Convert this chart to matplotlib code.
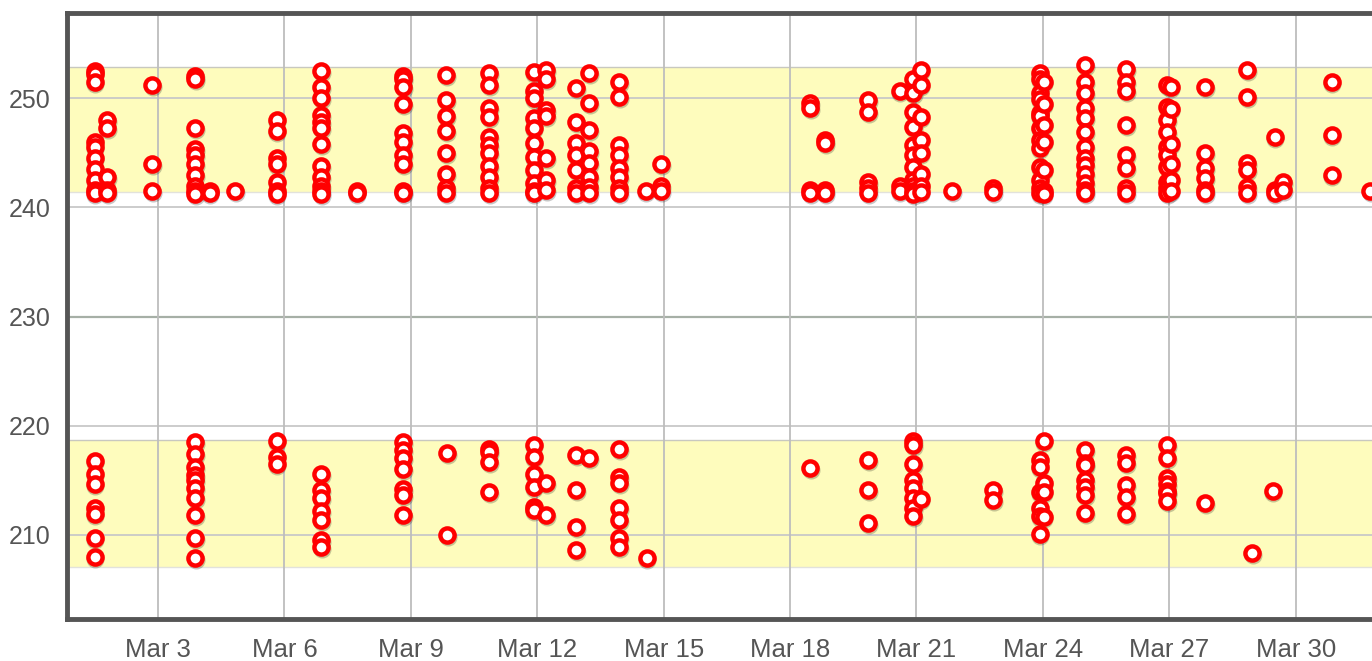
import datetime as dt
import matplotlib
matplotlib.use("Agg")
import matplotlib.pyplot as plt
import matplotlib.dates as mdates
import matplotlib.transforms as mtransforms
from matplotlib.ticker import FuncFormatter

# Readings, grouped by the (fractional) day of March they were taken on.
# Upper cluster (~241-253)
hi_days = [1.50, 1.79, 2.86, 3.88, 4.23, 4.83, 5.82, 6.87, 7.72, 8.82,
           9.84, 10.86, 11.92, 12.21, 12.92, 13.23, 13.94, 14.58, 14.94,
           18.48, 18.83, 19.85, 20.60, 20.92, 21.10, 21.85, 22.82,
           23.92, 24.02, 25.00, 25.98, 26.95, 27.03, 27.85, 28.85, 29.50,
           29.70, 30.85, 31.77]
hi_vals = [
    [252.5, 252.2, 251.5, 246.0, 245.5, 244.5, 243.5, 242.5, 241.6, 241.3],
    [248.0, 247.3, 242.8, 241.6, 241.3],
    [251.2, 244.0, 241.5],
    [252.0, 251.8, 247.3, 245.3, 244.8, 244.0, 243.0, 242.0, 241.5, 241.2],
    [241.5, 241.3],
    [241.5],
    [248.0, 247.0, 244.5, 244.0, 242.3, 241.5, 241.2],
    [252.5, 251.0, 250.0, 248.5, 247.8, 247.3, 245.8, 243.8, 242.8, 242.0, 241.5, 241.2],
    [241.5, 241.3],
    [252.0, 251.8, 251.0, 249.5, 246.8, 246.0, 244.8, 244.0, 241.5, 241.3],
    [252.1, 249.8, 248.4, 247.0, 245.0, 243.1, 241.8, 241.3],
    [252.3, 251.2, 249.1, 248.3, 246.4, 245.7, 245.0, 243.8, 242.8, 241.8, 241.3],
    [252.4, 250.7, 250.0, 248.2, 247.3, 245.9, 244.6, 243.4, 242.2, 241.5, 241.3],
    [252.6, 251.8, 248.9, 248.4, 244.5, 242.5, 241.6],
    [250.9, 247.8, 245.9, 244.8, 243.4, 241.8, 241.3],
    [252.3, 249.6, 247.1, 245.2, 244.1, 242.8, 241.9, 241.3],
    [251.5, 250.1, 245.7, 244.8, 243.6, 242.8, 241.8, 241.3],
    [241.5],
    [244.0, 242.0, 241.5],
    [249.6, 249.1, 241.6, 241.3],
    [246.2, 245.9, 241.6, 241.3],
    [249.8, 248.7, 242.3, 241.8, 241.3],
    [250.7, 242.0, 241.5],
    [251.8, 250.5, 248.7, 247.4, 245.7, 244.8, 243.7, 242.5, 242.0, 241.5, 241.2],
    [252.6, 251.2, 248.3, 246.2, 245.0, 243.1, 242.0, 241.4],
    [241.5],
    [241.8, 241.4],
    [252.3, 251.8, 250.5, 249.9, 248.6, 248.4, 247.3, 246.2, 245.4, 243.7, 242.5, 241.8, 241.3],
    [251.5, 249.5, 247.5, 246.0, 243.4, 241.5, 241.2],
    [253.0, 251.5, 250.5, 249.1, 248.2, 246.9, 245.5, 244.5, 243.9, 243.1, 242.2, 241.6, 241.3],
    [252.7, 251.5, 250.7, 247.5, 244.8, 243.6, 241.8, 241.3],
    [251.2, 249.2, 248.0, 246.9, 245.5, 244.8, 243.7, 242.3, 241.8, 241.3],
    [251.0, 249.0, 245.8, 244.0, 242.5, 241.5],
    [251.0, 245.0, 243.6, 242.7, 241.6, 241.3],
    [252.6, 250.1, 244.1, 243.4, 241.9, 241.3],
    [246.4, 241.6, 241.3],
    [242.3, 241.6],
    [251.5, 246.6, 243.0],
    [241.5],
]

# Lower cluster (~207-219)
lo_days = [1.50, 3.88, 5.82, 6.87, 8.82, 9.86, 10.86, 11.92, 12.21, 12.92,
           13.23, 13.94, 14.60, 18.48, 19.85, 20.92, 21.10, 22.82, 23.92,
           24.02, 25.00, 25.98, 26.95, 27.85, 28.97, 29.45]
lo_vals = [
    [216.8, 215.6, 214.7, 212.5, 211.9, 209.7, 208.0],
    [218.5, 217.4, 216.2, 215.5, 215.0, 214.3, 213.4, 211.8, 209.7, 207.9],
    [218.6, 217.1, 216.5],
    [215.6, 214.1, 213.4, 212.2, 211.4, 209.5, 208.9],
    [218.5, 217.8, 217.0, 216.0, 214.2, 213.7, 211.8],
    [217.5, 210.0],
    [217.9, 217.6, 216.7, 213.9],
    [218.2, 217.1, 215.6, 214.4, 212.6, 212.3],
    [214.8, 211.8],
    [217.3, 214.1, 210.7, 208.6],
    [217.0],
    [217.9, 215.3, 214.8, 212.5, 211.4, 209.7, 208.9],
    [207.9],
    [216.1],
    [216.9, 214.1, 211.1],
    [218.6, 218.2, 216.5, 215.0, 214.3, 213.4, 212.5, 211.7],
    [213.3],
    [214.1, 213.2],
    [216.9, 216.2, 213.9, 212.5, 211.7, 210.1],
    [218.6, 214.8, 213.9, 211.6],
    [217.8, 216.6, 216.4, 215.0, 214.4, 213.7, 212.0],
    [217.3, 216.6, 214.6, 213.5, 211.9],
    [218.2, 217.0, 215.2, 214.7, 214.0, 213.8, 213.1],
    [212.9],
    [208.3],
    [214.0],
]

# Shaded ranges and axis settings
bands = [(241.4, 252.9), (207.1, 218.7)]
y_ticks = [210, 220, 230, 240, 250]
y_range = (202.3, 257.8)
x_range_days = (0.84, 31.81)
tick_days = [3, 6, 9, 12, 15, 18, 21, 24, 27, 30]

base = dt.datetime(2024, 3, 1)


def to_date(day):
    return base + dt.timedelta(days=day - 1)


xs, ys = [], []
for days, vals in ((hi_days, hi_vals), (lo_days, lo_vals)):
    for d, col in zip(days, vals):
        xs += [to_date(d)] * len(col)
        ys += col

fig = plt.figure(figsize=(13.72, 6.61), dpi=100)
ax = fig.add_axes([67 / 1372, 1 - 619 / 661, 1 - 67 / 1372, (619 - 13) / 661])
ax.set_facecolor("white")

for lo, hi in bands:
    ax.axhspan(lo, hi, color="#fefcbd", zorder=0, lw=0)
    ax.axhline(lo, color="#e2e2dc", lw=1, zorder=0.5)
    ax.axhline(hi, color="#c8c8c0", lw=1, zorder=0.5)

for t in y_ticks:
    ax.axhline(t, color="#6b7b6b" if t == 230 else "#c8c8c8",
               lw=1.6 if t == 230 else 1.3, alpha=0.6 if t == 230 else 1, zorder=0.6)
for d in tick_days:
    ax.axvline(to_date(d), color="#bdbdbd", lw=1.3, zorder=0.6)

# soft drop shadow under each marker
shadow = mtransforms.offset_copy(ax.transData, fig=fig, x=0.5, y=-2.0, units="dots")
ax.plot(xs, ys, linestyle="none", marker="o", ms=13, mfc="black", mec="none",
        alpha=0.22, transform=shadow, zorder=2)
ax.plot(xs, ys, linestyle="none", marker="o", ms=10.2, mfc="white", mec="#ff0000",
        mew=3.2, zorder=3)

ax.set_ylim(*y_range)
ax.set_xlim(to_date(x_range_days[0]), to_date(x_range_days[1]))
ax.set_yticks(y_ticks)
ax.set_xticks([to_date(d) for d in tick_days])
ax.xaxis.set_major_formatter(FuncFormatter(
    lambda v, pos: "Mar %d" % mdates.num2date(v).day))

ax.tick_params(length=0, labelsize=18, labelcolor="#555555")
ax.tick_params(axis="x", pad=14, labelsize=18.5)
ax.tick_params(axis="y", pad=12)
for lab in ax.get_xticklabels() + ax.get_yticklabels():
    lab.set_family("Liberation Sans")

for side in ("left", "top", "bottom"):
    ax.spines[side].set_color("#555555")
    ax.spines[side].set_linewidth(3.5)
ax.spines["right"].set_visible(False)

fig.savefig("out.png", dpi=100)
